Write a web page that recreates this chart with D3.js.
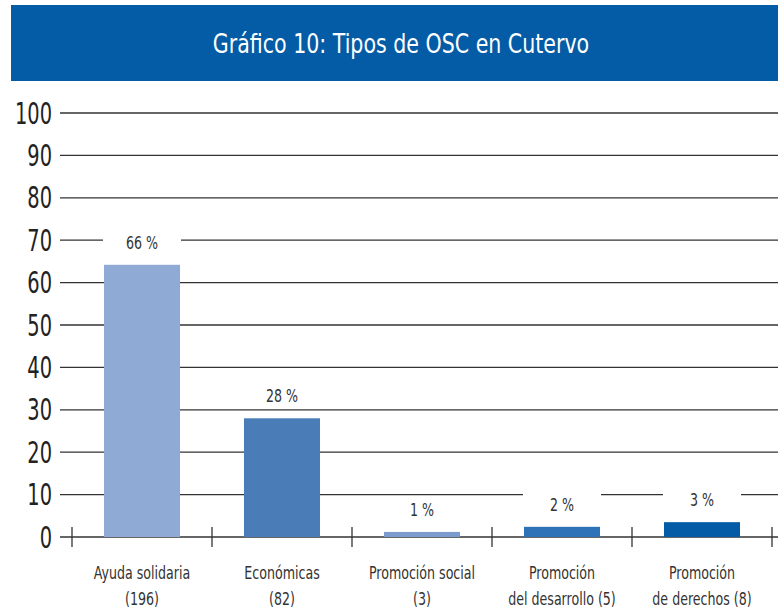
<!DOCTYPE html>
<html><head><meta charset="utf-8">
<script src="https://cdn.jsdelivr.net/npm/d3@7/dist/d3.min.js"></script>
<style>body{margin:0;background:#fff}svg{display:block}</style>
</head><body><svg id="c" width="778" height="609"></svg>
<script>
const title = "Gráfico 10: Tipos de OSC en Cutervo";
const categories = ["Ayuda solidaria|(196)", "Económicas|(82)", "Promoción social|(3)", "Promoción|del desarrollo (5)", "Promoción|de derechos (8)"];
const values = [64.2, 28.0, 1.2, 2.4, 3.5];
const valueLabels = ["66 %", "28 %", "1 %", "2 %", "3 %"];
const colors = ["#8faad4", "#4a7db8", "#7b9bcf", "#2e72b7", "#035ca5"];
const yTicks = [0,10,20,30,40,50,60,70,80,90,100];

const font = "'DejaVu Sans Condensed','Liberation Sans Narrow','Open Sans',sans-serif";
const svg = d3.select("#c");

function ctext(parent, x, y, str, size, sx, anchor, fill){
  return parent.append("text")
    .attr("transform", `translate(${x},${y}) scale(${sx},1)`)
    .attr("text-anchor", anchor).attr("font-family", font)
    .attr("font-size", size).attr("fill", fill).text(str);
}

svg.append("rect").attr("x",11).attr("y",5).attr("width",767).attr("height",76).attr("fill","#035ca5");
ctext(svg, 401, 53, title, 26, 0.88, "middle", "#fff");

const y = d3.scaleLinear().domain([0,100]).range([537,113]);
const x = d3.scaleBand().domain(d3.range(categories.length)).range([72,772]).paddingInner(0.457).paddingOuter(0.2285);

const g = svg.append("g");
g.selectAll("line.grid").data(yTicks).join("line")
  .attr("x1",60).attr("x2",778).attr("y1",d=>y(d)).attr("y2",d=>y(d))
  .attr("stroke","#333").attr("stroke-width",1.3);
yTicks.forEach(d=>ctext(g, 52, y(d)+10.5, d, 30, 0.72, "end", "#222"));

const bounds = d3.range(categories.length+1).map(i=>72+i*(700/categories.length));
g.selectAll("line.tk").data(bounds).join("line")
  .attr("x1",d=>d).attr("x2",d=>d).attr("y1",527).attr("y2",547)
  .attr("stroke","#333").attr("stroke-width",1.3);

g.selectAll("rect.lb").data(values).join("rect")
  .attr("x",(d,i)=>x(i)-1).attr("width",x.bandwidth()+2)
  .attr("y",d=>y(d)-34).attr("height",22).attr("fill","#fff");

g.selectAll("rect.bar").data(values).join("rect")
  .attr("x",(d,i)=>x(i)).attr("width",x.bandwidth())
  .attr("y",d=>y(d)).attr("height",d=>y(0)-y(d)).attr("fill",(d,i)=>colors[i]);

values.forEach((d,i)=>ctext(g, x(i)+x.bandwidth()/2, y(d)-16, valueLabels[i], 18, 0.78, "middle", "#333"));

categories.forEach((c,i)=>{
  c.split("|").forEach((l,j)=>ctext(g, x(i)+x.bandwidth()/2, 579+j*26, l, 18, 0.78, "middle", "#333"));
});
</script></body></html>
